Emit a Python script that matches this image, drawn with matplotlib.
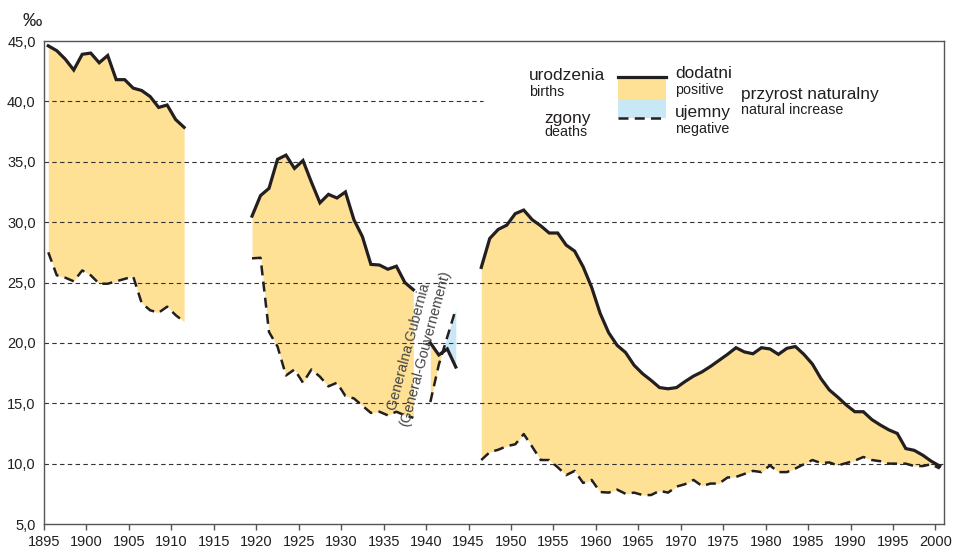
import numpy as np
import matplotlib.pyplot as plt
from matplotlib.patches import Rectangle
from matplotlib.lines import Line2D

plt.rcParams['font.family'] = ['Liberation Sans', 'DejaVu Sans']

# births / deaths per 1000, by period
years1 = list(range(1895, 1912))
births1 = [44.6, 44.2, 43.5, 42.6, 43.9, 44.0, 43.2, 43.8, 41.8, 41.8, 41.1, 40.9, 40.4, 39.5, 39.7, 38.5, 37.85]
deaths1 = [27.5, 25.6, 25.4, 25.1, 26.0, 25.6, 24.9, 24.9, 25.1, 25.3, 25.5, 23.3, 22.7, 22.5, 23.0, 22.3, 21.75]

years2 = list(range(1919, 1939))
births2 = [30.5, 32.2, 32.8, 35.2, 35.55, 34.45, 35.1, 33.3, 31.6, 32.3, 32.0, 32.5, 30.2, 28.8, 26.5, 26.45, 26.1, 26.35, 25.0, 24.4]
deaths2 = [27.0, 27.05, 20.9, 19.7, 17.3, 17.8, 16.7, 17.8, 17.2, 16.4, 16.7, 15.6, 15.4, 14.8, 14.2, 14.3, 14.0, 14.3, 14.0, 13.8]

years3 = [1940, 1941, 1942, 1943]
births3 = [20.0, 19.0, 19.5, 18.0]
deaths3 = [15.1, 18.2, 20.5, 22.8]

years4 = list(range(1946, 2001))
births4 = [26.25, 28.65, 29.4, 29.75, 30.7, 31.0, 30.2, 29.7, 29.1, 29.1, 28.1, 27.6, 26.3, 24.6, 22.45,
           20.85, 19.8, 19.2, 18.15, 17.45, 16.9, 16.3, 16.2, 16.3, 16.8, 17.25, 17.6, 18.05, 18.55, 19.05,
           19.6, 19.25, 19.1, 19.6, 19.5, 19.05, 19.55, 19.7, 19.05, 18.25, 17.05, 16.1, 15.5, 14.85, 14.3,
           14.3, 13.65, 13.2, 12.8, 12.5, 11.25, 11.1, 10.7, 10.2, 9.8]
deaths4 = [10.3, 10.95, 11.15, 11.45, 11.6, 12.45, 11.4, 10.3, 10.3, 9.7, 9.05, 9.4, 8.4, 8.65, 7.65,
           7.6, 7.85, 7.5, 7.6, 7.4, 7.4, 7.75, 7.6, 8.1, 8.3, 8.65, 8.15, 8.35, 8.35, 8.85,
           8.9, 9.15, 9.4, 9.3, 9.85, 9.3, 9.3, 9.6, 9.95, 10.3, 10.05, 10.1, 9.85, 10.05, 10.25,
           10.55, 10.3, 10.2, 10.0, 10.0, 10.0, 9.8, 9.8, 9.95, 9.6]

yticks = [5, 10, 15, 20, 25, 30, 35, 40, 45]
xticks = list(range(1895, 2001, 5))

yellow = '#FFE196'
blue = '#C8E8F6'
ink = '#231F20'

fig = plt.figure(figsize=(9.57, 5.52), dpi=100)
ax = fig.add_axes([0.046, 0.0507, 0.9404, 0.875])

for yrs, b, d in [(years1, births1, deaths1), (years2, births2, deaths2),
                  (years3, births3, deaths3), (years4, births4, deaths4)]:
    x = np.array(yrs) + 0.5
    b = np.array(b)
    d = np.array(d)
    ax.fill_between(x, b, d, where=b >= d, interpolate=True, color=yellow, lw=0, zorder=1)
    ax.fill_between(x, b, d, where=b < d, interpolate=True, color=blue, lw=0, zorder=1)
    ax.plot(x, b, color=ink, lw=2.3, solid_joinstyle='miter', zorder=4)
    ax.plot(x, d, color=ink, lw=1.8, dashes=(4, 2.5), zorder=4)

# horizontal dashed grid
for v in yticks[1:-1]:
    if v == 40:
        ax.plot([1895, 1946.7], [v, v], color='#333333', lw=0.8, dashes=(4, 3), zorder=2)
    else:
        ax.axhline(v, color='#333333', lw=0.8, dashes=(4, 3), zorder=2)

ax.set_xlim(1895, 2001)
ax.set_ylim(5, 45)
ax.set_xticks(xticks)
ax.set_xticklabels([str(t) for t in xticks], fontsize=10.5, color=ink)
ax.set_yticks(yticks)
ax.set_yticklabels([f"{v:.1f}".replace('.', ',') for v in yticks], fontsize=10.5, color=ink)
ax.tick_params(axis='x', direction='out', length=4, width=1, color='#555555', pad=4)
ax.tick_params(axis='y', length=0, pad=6)
for s in ax.spines.values():
    s.set_color('#555555')
    s.set_linewidth(1)

fig.text(32 / 957, 1 - 22 / 552, '‰', fontsize=14, color=ink, ha='center', va='center')

# rotated label for the war period
ax.text(1937.97, 19.7, 'Generalna Gubernia', rotation=75, fontsize=10.3, color='#444444',
        ha='center', va='center', rotation_mode='anchor', zorder=5)
ax.text(1939.85, 19.55, '(General-Gouvernement)', rotation=75, fontsize=10.3, color='#444444',
        ha='center', va='center', rotation_mode='anchor', zorder=5)

# custom legend
def px(x, y):
    return x / 957, 1 - y / 552

fig.text(*px(529, 76), 'urodzenia', fontsize=12.4, color=ink, va='center')
fig.text(*px(529, 92), 'births', fontsize=10.3, color=ink, va='center')
fig.text(*px(544, 118), 'zgony', fontsize=12.4, color=ink, va='center')
fig.text(*px(544, 132), 'deaths', fontsize=10.3, color=ink, va='center')
fig.text(*px(675, 74), 'dodatni', fontsize=12.4, color=ink, va='center')
fig.text(*px(675, 90), 'positive', fontsize=10.3, color=ink, va='center')
fig.text(*px(675, 113), 'ujemny', fontsize=12.4, color=ink, va='center')
fig.text(*px(675, 129), 'negative', fontsize=10.3, color=ink, va='center')
fig.text(*px(741, 95), 'przyrost naturalny', fontsize=12.4, color=ink, va='center')
fig.text(*px(741, 110), 'natural increase', fontsize=10.3, color=ink, va='center')

x0, y0 = px(618, 100)
fig.patches.append(Rectangle((x0, y0), 48 / 957, 22 / 552, transform=fig.transFigure,
                             facecolor=yellow, lw=0))
x0, y0 = px(618, 118)
fig.patches.append(Rectangle((x0, y0), 48 / 957, 18 / 552, transform=fig.transFigure,
                             facecolor=blue, lw=0))
xa, ya = px(618, 77)
xb, _ = px(666, 77)
fig.lines.append(Line2D([xa, xb], [ya, ya], transform=fig.transFigure, color=ink, lw=2.3))
xa, ya = px(618, 118)
fig.lines.append(Line2D([xa, xb], [ya, ya], transform=fig.transFigure, color=ink, lw=1.8, dashes=(4, 2.5)))

fig.savefig('out.png', dpi=100)
